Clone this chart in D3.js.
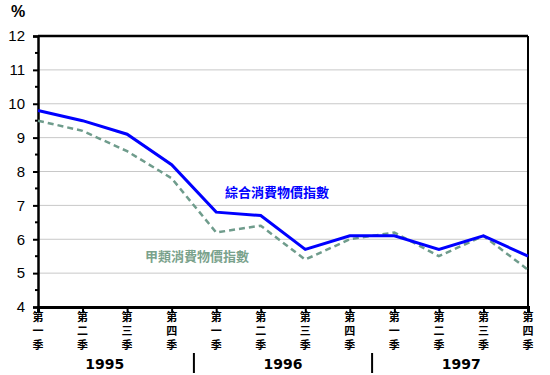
<!DOCTYPE html>
<html>
<head>
<meta charset="utf-8">
<script src="https://cdn.jsdelivr.net/npm/d3@7"></script>
<style>
body { margin: 0; background: #fff; }
</style>
</head>
<body>
<div id="chart"></div>
<script>
let quarters = ["第一季", "第二季", "第三季", "第四季", "第一季", "第二季", "第三季", "第四季", "第一季", "第二季", "第三季", "第四季"]
let years = ["1995", "1996", "1997"]
let compositeCPI = [9.8, 9.5, 9.1, 8.2, 6.8, 6.7, 5.7, 6.1, 6.1, 5.7, 6.1, 5.5]
let cpiA = [9.5, 9.2, 8.6, 7.8, 6.2, 6.4, 5.4, 6.0, 6.2, 5.5, 6.1, 5.1]
let yTicks = [4, 5, 6, 7, 8, 9, 10, 11, 12]

// set the dimensions and margins of the graph
let margin = {top: 36, right: 22, bottom: 68, left: 38},
    width = 550 - margin.left - margin.right,
    height = 375 - margin.top - margin.bottom;

let svg = d3.select("#chart")
  .append("svg")
    .attr("width", 550)
    .attr("height", 375)
  .append("g")
    .attr("transform", "translate(" + margin.left + "," + margin.top + ")");

let x = d3.scaleLinear()
  .domain([0, quarters.length - 1])
  .range([0, width]);

let y = d3.scaleLinear()
  .domain([4, 12])
  .range([height, 0]);

// gridlines
svg.append("g")
  .selectAll("line")
  .data(yTicks.slice(1, -1))
  .enter()
  .append("line")
    .attr("x1", 0)
    .attr("x2", width)
    .attr("y1", d => y(d))
    .attr("y2", d => y(d))
    .style("stroke", "#c8c8c8")
    .style("stroke-width", 1);

// frame: top and right
svg.append("line")
  .attr("x1", 0).attr("x2", width)
  .attr("y1", 0).attr("y2", 0)
  .style("stroke", "#000").style("stroke-width", 2.5);
svg.append("line")
  .attr("x1", width).attr("x2", width)
  .attr("y1", 0).attr("y2", height)
  .style("stroke", "#000").style("stroke-width", 2);

// Y axis
let yAxis = svg.append("g")
  .call(d3.axisLeft(y).tickValues(yTicks).tickSize(5).tickFormat(d3.format("d")));
yAxis.select(".domain").style("stroke-width", 2.5);
yAxis.selectAll(".tick line").style("stroke-width", 2);
yAxis.selectAll("text")
  .attr("x", -13)
  .style("font-family", "Arial, 'Liberation Sans', sans-serif")
  .style("font-size", "15px")
  .style("fill", "#000");

// minor ticks
svg.append("g")
  .selectAll("line")
  .data(yTicks.slice(0, -1).map(d => d + 0.5))
  .enter()
  .append("line")
    .attr("x1", -3)
    .attr("x2", 0)
    .attr("y1", d => y(d))
    .attr("y2", d => y(d))
    .style("stroke", "#000")
    .style("stroke-width", 2);

svg.append("text")
  .attr("x", -20)
  .attr("y", -19)
  .attr("text-anchor", "middle")
  .style("font-family", "Arial, 'Liberation Sans', sans-serif")
  .style("font-size", "16px")
  .style("font-weight", "bold")
  .text("%");

// X axis
let xAxis = svg.append("g")
  .attr("transform", "translate(0," + height + ")")
  .call(d3.axisBottom(x).tickValues(d3.range(quarters.length)).tickSize(6).tickFormat(""));
xAxis.select(".domain").style("stroke-width", 3);
xAxis.selectAll(".tick line").style("stroke-width", 2);

// vertical quarter labels
svg.append("g")
  .selectAll("text")
  .data(quarters)
  .enter()
  .append("text")
    .attr("x", (d, i) => x(i))
    .attr("y", height + 4)
    .style("writing-mode", "vertical-rl")
    .style("letter-spacing", "3px")
    .style("font-family", "'Noto Sans CJK TC', sans-serif")
    .style("font-size", "11px")
    .style("font-weight", "bold")
    .text(d => d);

// year labels and separators
svg.append("g")
  .selectAll("text")
  .data(years)
  .enter()
  .append("text")
    .attr("x", (d, i) => (x(i * 4) + x(i * 4 + 3)) / 2)
    .attr("y", height + 62)
    .attr("text-anchor", "middle")
    .style("font-family", "'DejaVu Sans', sans-serif")
    .style("font-size", "14px")
    .style("font-weight", "bold")
    .text(d => d);

svg.append("g")
  .selectAll("line")
  .data(years.slice(1))
  .enter()
  .append("line")
    .attr("x1", (d, i) => (x((i + 1) * 4 - 1) + x((i + 1) * 4)) / 2)
    .attr("x2", (d, i) => (x((i + 1) * 4 - 1) + x((i + 1) * 4)) / 2)
    .attr("y1", height + 46)
    .attr("y2", height + 66)
    .style("stroke", "#000")
    .style("stroke-width", 2);

// lines
let line = d3.line()
  .x((d, i) => x(i))
  .y(d => y(d));

svg.append("path")
  .datum(cpiA)
  .attr("d", line)
  .style("fill", "none")
  .style("stroke", "#6f9c8c")
  .style("stroke-width", 2.5)
  .style("stroke-dasharray", "6,4");

svg.append("path")
  .datum(compositeCPI)
  .attr("d", line)
  .style("fill", "none")
  .style("stroke", "#0000ff")
  .style("stroke-width", 3);

// series labels
svg.append("text")
  .attr("x", 187)
  .attr("y", 161)
  .style("font-family", "'Noto Sans CJK TC', sans-serif")
  .style("font-size", "13px")
  .style("font-weight", "bold")
  .style("fill", "#0000ff")
  .text("綜合消費物價指數");

svg.append("text")
  .attr("x", 107)
  .attr("y", 225)
  .style("font-family", "'Noto Sans CJK TC', sans-serif")
  .style("font-size", "13px")
  .style("font-weight", "bold")
  .style("fill", "#7aa28c")
  .text("甲類消費物價指數");
</script>
</body>
</html>
